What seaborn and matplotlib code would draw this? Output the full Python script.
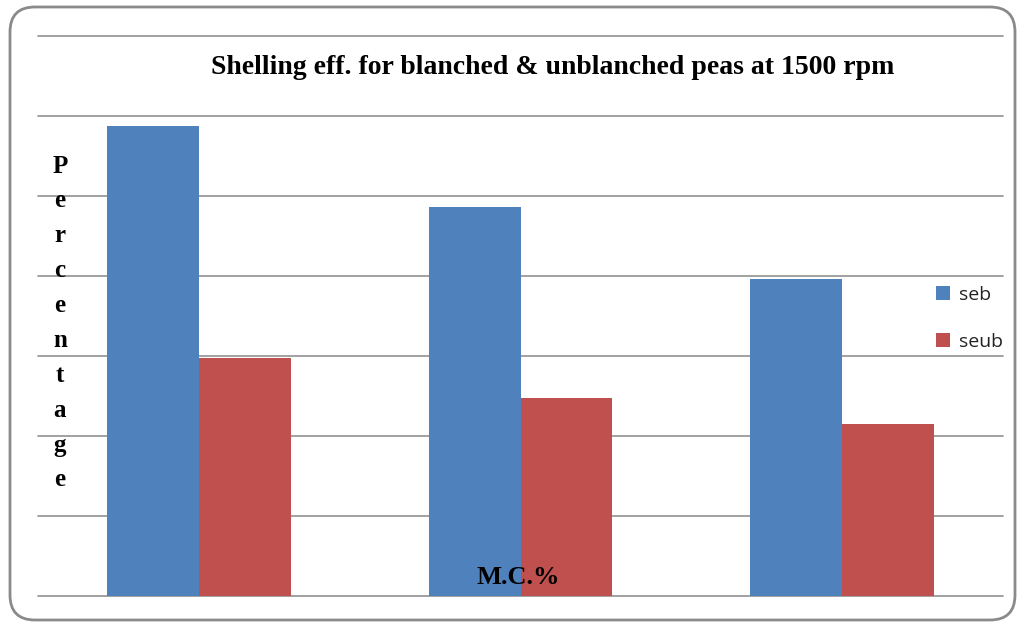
import pandas as pd
import matplotlib.pyplot as plt
import seaborn as sns
from matplotlib.patches import FancyBboxPatch

# values (y axis 0-70, gridlines every 10)
categories = ['MC1', 'MC2', 'MC3']
series = ['seb', 'seub']
seb = [58.8, 48.6, 39.6]
seub = [29.8, 24.8, 21.5]
colors = ['#4F81BD', '#C0504D']

df = pd.DataFrame({
    'mc': categories * 2,
    'series': ['seb'] * 3 + ['seub'] * 3,
    'value': seb + seub,
})

sns.set_style('white')
plt.rcParams['text.color'] = 'black'
fig = plt.figure(figsize=(10.18, 6.22), dpi=100)
ax = fig.add_axes([38 / 1018, 26 / 622, 965 / 1018, 560 / 622])

sns.barplot(data=df, x='mc', y='value', hue='series', hue_order=series,
            palette=colors, saturation=1, width=0.57, linewidth=0, ax=ax)

ax.set_ylim(0, 70)
ax.set_xlim(-0.5, 2.5)
ax.set_yticks(range(0, 80, 10))
ax.yaxis.grid(True, color='#9a9a9a', linewidth=1.3)
ax.set_axisbelow(True)
ax.tick_params(left=False, bottom=False, labelleft=False, labelbottom=False)
for s in ax.spines.values():
    s.set_visible(False)
ax.set_xlabel('')
ax.set_ylabel('')
for line in ax.get_ygridlines():
    line.set_clip_on(False)

handles, labels = ax.get_legend_handles_labels()
leg = ax.legend(handles, labels, loc='upper left', bbox_to_anchor=(926 / 1018, 1 - 276 / 622),
                bbox_transform=fig.transFigure, frameon=False, borderpad=0,
                handlelength=0.75, handleheight=0.75, handletextpad=0.45, labelspacing=1.5,
                prop={'family': 'Open Sans', 'size': 14})
for t in leg.get_texts():
    t.set_color('#222222')

serif = ['Liberation Serif', 'DejaVu Serif']
fig.text(553 / 1018, 1 - 68 / 622, 'Shelling eff. for blanched & unblanched peas at 1500 rpm',
         ha='center', va='center', fontsize=20, fontweight='bold', family=serif)
fig.text(60 / 1018, 1 - 323 / 622, '\n'.join('Percentage'), ha='center', va='center',
         multialignment='center', fontsize=18, fontweight='bold', family=serif, linespacing=1.66)
fig.text(518 / 1018, 1 - 578 / 622, 'M.C.%', ha='center', va='center',
         fontsize=19, fontweight='bold', family=serif)

frame = FancyBboxPatch((0.10, 0.02), 10.05, 6.13, boxstyle='round,pad=0,rounding_size=0.25',
                       transform=fig.dpi_scale_trans, facecolor='none',
                       edgecolor='#8a8a8a', linewidth=2)
fig.patches.append(frame)

fig.savefig('out.png', dpi=100)
